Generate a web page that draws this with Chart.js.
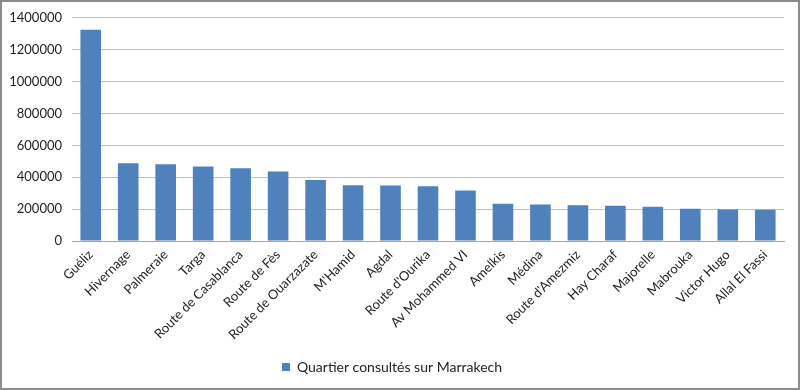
<!DOCTYPE html>
<html>
<head>
<meta charset="utf-8">
<script src="https://cdn.jsdelivr.net/npm/chart.js@4.4.1/dist/chart.umd.min.js"></script>
<style>
  html, body { margin: 0; padding: 0; background: #fff; }
  #wrap { width: 800px; height: 390px; }
</style>
</head>
<body>
<div id="wrap"><canvas id="quartiers-chart" width="800" height="390"></canvas></div>
<script>
// Data
const quartiers = ['Guéliz', 'Hivernage', 'Palmeraie', 'Targa', 'Route de Casablanca', 'Route de Fès',
  'Route de Ouarzazate', "M'Hamid", 'Agdal', "Route d'Ourika", 'Av Mohammed VI', 'Amelkis', 'Médina',
  "Route d'Amezmiz", 'Hay Charaf', 'Majorelle', 'Mabrouka', 'Victor Hugo', 'Allal El Fassi'];
const consultations = [1325000, 487000, 482000, 467000, 457000, 436000, 382000, 349000, 348000, 344000,
  317000, 234000, 229000, 225000, 221000, 215000, 202000, 198000, 196000];
const yMin = 0;
const yMax = 1400000;
const yStep = 200000;

const FONT = 'Lato, "Open Sans", sans-serif';

// frame around the whole picture
const framePlugin = {
  id: 'frame',
  afterDraw(chart) {
    const c = chart.ctx;
    c.save();
    c.strokeStyle = '#8c8c8c';
    c.lineWidth = 2;
    c.strokeRect(1, 1, chart.width - 2, chart.height - 2);
    c.restore();
  }
};

const ctx = document.getElementById('quartiers-chart').getContext('2d');

const quartiersChart = new Chart(ctx, {
  type: 'bar',
  data: {
    labels: quartiers,
    datasets: [{
      label: 'Quartier consultés sur Marrakech',
      data: consultations,
      backgroundColor: '#4f81bd',
      borderWidth: 0,
      categoryPercentage: 1,
      barPercentage: 0.55
    }]
  },
  options: {
    responsive: false,
    animation: false,
    layout: {
      padding: { top: 16, right: 16, left: 0, bottom: 6 }
    },
    scales: {
      x: {
        grid: { display: false, drawTicks: false },
        border: { display: true, color: '#a6a6a6', width: 1 },
        ticks: {
          color: '#222',
          font: { family: FONT, size: 13 },
          minRotation: 45,
          maxRotation: 45,
          autoSkip: false,
          padding: 6
        },
        afterFit(scale) { scale.height = 110; }
      },
      y: {
        min: yMin,
        max: yMax,
        grid: { color: '#bfbfbf', drawTicks: false },
        border: { display: false },
        ticks: {
          stepSize: yStep,
          color: '#222',
          font: { family: FONT, size: 13 },
          padding: 10,
          callback: v => String(v)
        },
        afterFit(scale) { scale.width = 72; }
      }
    },
    plugins: {
      legend: {
        position: 'bottom',
        labels: {
          boxWidth: 8,
          boxHeight: 8,
          color: '#222',
          font: { family: FONT, size: 14 },
          padding: 9
        }
      },
      tooltip: { enabled: false }
    }
  },
  plugins: [framePlugin]
});
</script>
</body>
</html>
